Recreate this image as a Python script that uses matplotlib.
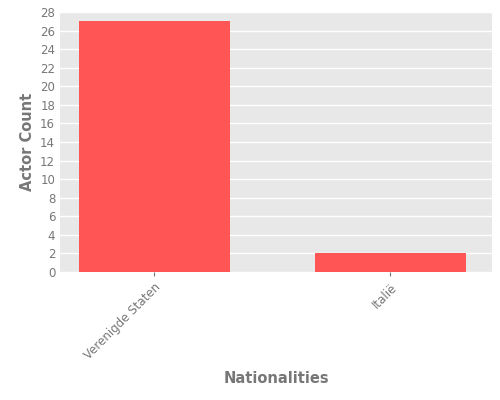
import matplotlib
matplotlib.use("Agg")
import matplotlib.pyplot as plt

nationalities = ["Verenigde Staten", "Italië"]
actor_counts = [27, 2]

fig = plt.figure(figsize=(5, 4), dpi=100)
ax = fig.add_axes([0.12, 0.32, 0.864, 0.65])
ax.set_facecolor("#e8e8e8")

x = list(range(len(nationalities)))
ax.bar(x, actor_counts, width=0.64, color="#ff5555", zorder=2)

ax.set_xlim(-0.40, 1.43)
ax.set_ylim(0, 28)
ax.set_yticks(range(0, 29, 2))
ax.set_xticks(x)
ax.set_xticklabels(nationalities, rotation=45, ha="right", rotation_mode="anchor")
ax.grid(True, axis="y", color="white", linewidth=1, zorder=0)
ax.set_axisbelow(True)
for s in ax.spines.values():
    s.set_visible(False)
ax.tick_params(colors="#777777", labelsize=8.5, length=3)
ax.tick_params(axis="y", length=0)

ax.set_xlabel("Nationalities", color="#777777", fontsize=10.5, fontweight="semibold", labelpad=6)
ax.set_ylabel("Actor Count", color="#777777", fontsize=10.5, fontweight="semibold")

fig.savefig("out.png", dpi=100)
